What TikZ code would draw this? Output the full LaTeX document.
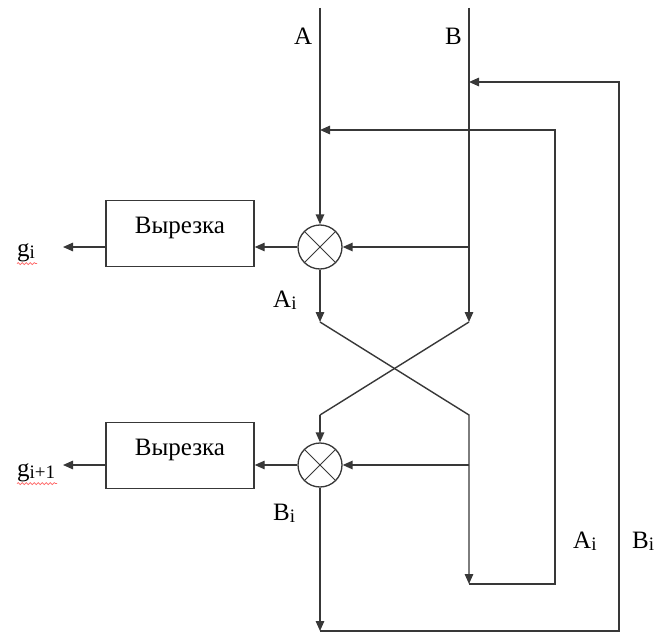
\documentclass[tikz,border=0pt]{standalone}
\usepackage{fontspec}
\setmainfont{Liberation Serif}
\usetikzlibrary{arrows.meta,decorations.pathmorphing}
\newcommand\sbs[1]{\raisebox{-2.5pt}{\fontsize{19}{19}\selectfont #1}}
\begin{document}
\begin{tikzpicture}[x=1pt,y=-1pt,
  wire/.style={draw=black!78, line width=1.4pt},
  arr/.style={wire,-{Triangle[length=10pt,width=8.5pt]}},
  mult/.style={circle,draw=black!78,line width=1.3pt,minimum size=44pt,inner sep=0pt},
  cutbox/.style={draw=black!78,line width=1.4pt,minimum width=148pt,minimum height=66pt,
    text height=18pt,text depth=18pt,inner sep=0pt,font=\fontsize{25}{25}\selectfont},
  lbl/.style={inner sep=0pt,anchor=base west,font=\fontsize{25}{25}\selectfont},
  squig/.style={draw=red!60,line width=0.7pt,decorate,decoration={snake,amplitude=1pt,segment length=4pt}}
]
\useasboundingbox (0,0) rectangle (659,634);
\fill[white] (0,0) rectangle (659,634);

% nodes
\node[mult] (m1) at (320,247) {};
\node[mult] (m2) at (320,465) {};
\node[cutbox] (c1) at (180,233.5) {Вырезка};
\node[cutbox] (c2) at (180,455.5) {Вырезка};

% coordinates
\coordinate (Atop) at (320,8);
\coordinate (Btop) at (469,8);
\coordinate (Aend) at (320,322);
\coordinate (Bend) at (469,322);
\coordinate (Bmid1) at (469,247);
\coordinate (Xr) at (469,415);
\coordinate (Xl) at (320,415);
\coordinate (Bmid2) at (469,465);
\coordinate (L2b) at (469,584);
\coordinate (L2br) at (555,584);
\coordinate (L2tr) at (555,130);
\coordinate (L2tl) at (320,130);
\coordinate (L1bl) at (320,631);
\coordinate (L1br) at (619,631);
\coordinate (L1tr) at (619,82);
\coordinate (L1tl) at (469,82);
\coordinate (g1) at (63,247);
\coordinate (g2) at (63,465);

% crosses in multipliers
\draw[wire,line width=1pt] (m1.45) -- (m1.225) (m1.135) -- (m1.315);
\draw[wire,line width=1pt] (m2.45) -- (m2.225) (m2.135) -- (m2.315);

% connectors
\draw[arr] (Atop) -- (m1.north);
\draw[arr] (Btop) -- (Bend);
\draw[arr] (Bmid1) -- (m1.east);
\draw[arr] (m1.west) -- (m1.west -| c1.east);
\draw[arr] (c1.west |- g1) -- (g1);
\draw[arr] (m1.south) -- (Aend);
\draw[arr] (Aend) -- (Xr) -- (L2b);
\draw[wire] (Bend) -- (Xl);
\draw[arr] (Xl) -- (m2.north);
\draw[arr] (Bmid2) -- (m2.east);
\draw[arr] (m2.west) -- (m2.west -| c2.east);
\draw[arr] (c2.west |- g2) -- (g2);
\draw[arr] (m2.south) -- (L1bl);
\draw[arr] (L1bl) -- (L1br) -- (L1tr) -- (L1tl);
\draw[arr] (L2b) -- (L2br) -- (L2tr) -- (L2tl);

% labels
\node[lbl] (lA) at (294,45) {A};
\node[lbl] (lB) at (445,45) {B};
\node[lbl] (lAi1) at (273,307) {A\sbs{i}};
\node[lbl] (lBi1) at (273,520) {B\sbs{i}};
\node[lbl] (lAi2) at (573,548) {A\sbs{i}};
\node[lbl] (lBi2) at (632,548) {B\sbs{i}};
\node[lbl] (lg1) at (17,256) {g\sbs{i}};
\node[lbl] (lg2) at (17,476) {g\sbs{i+1}};
\draw[squig] (lg1.south west) ++(0,2) -- ++(20,0);
\draw[squig] (lg2.south west) ++(0,2) -- ++(40,0);
\end{tikzpicture}
\end{document}
